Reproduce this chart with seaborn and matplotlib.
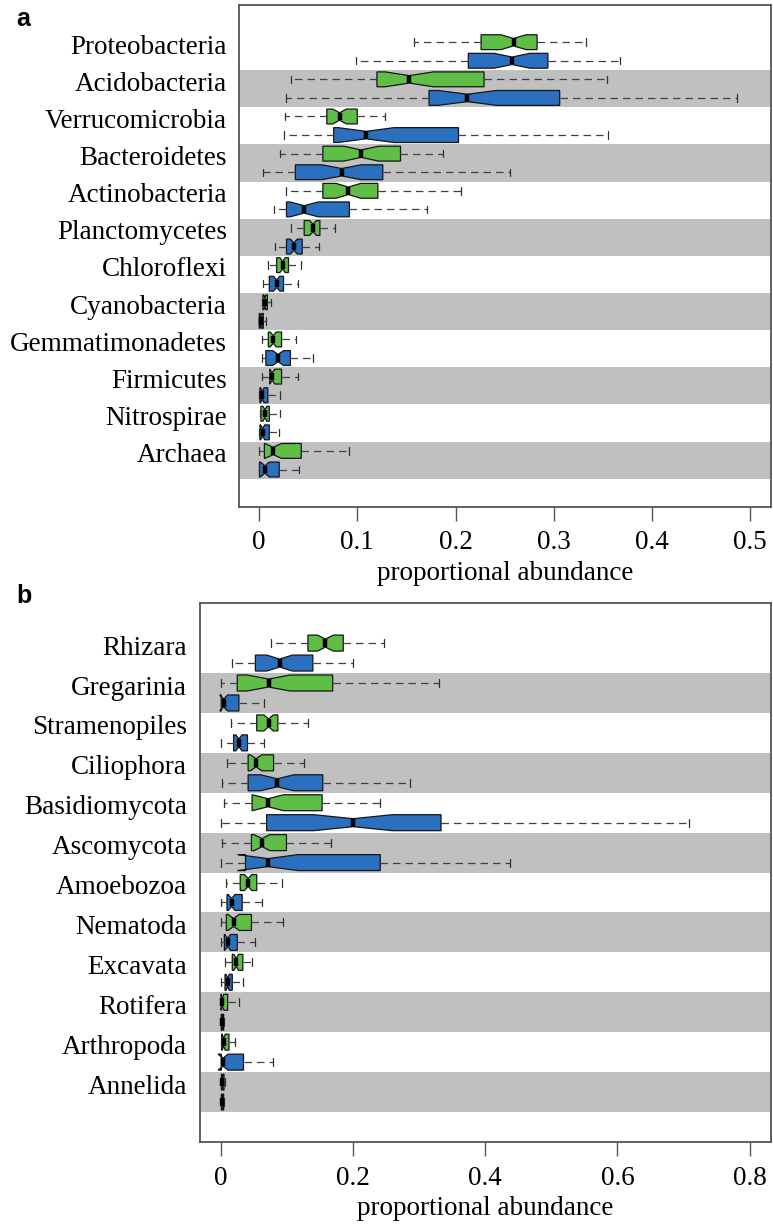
import numpy as np
import pandas as pd
import matplotlib
matplotlib.use("Agg")
import matplotlib.pyplot as plt
import seaborn as sns

# ---------------- data (lo whisker, Q1, median, Q3, hi whisker) ----------------
cats_a = ["Proteobacteria", "Acidobacteria", "Verrucomicrobia", "Bacteroidetes",
          "Actinobacteria", "Planctomycetes", "Chloroflexi", "Cyanobacteria",
          "Gemmatimonadetes", "Firmicutes", "Nitrospirae", "Archaea"]
a_green = [
    (0.158, 0.226, 0.259, 0.283, 0.333),
    (0.033, 0.120, 0.153, 0.229, 0.354),
    (0.026, 0.069, 0.082, 0.100, 0.128),
    (0.021, 0.065, 0.104, 0.144, 0.187),
    (0.027, 0.065, 0.091, 0.121, 0.206),
    (0.033, 0.046, 0.055, 0.062, 0.077),
    (0.009, 0.018, 0.024, 0.030, 0.043),
    (0.003, 0.004, 0.006, 0.0085, 0.012),
    (0.003, 0.0095, 0.0145, 0.023, 0.038),
    (0.003, 0.011, 0.0135, 0.023, 0.040),
    (0.001, 0.002, 0.006, 0.0105, 0.021),
    (0.0003, 0.0055, 0.0145, 0.043, 0.092),
]
a_blue = [
    (0.099, 0.213, 0.2575, 0.294, 0.367),
    (0.028, 0.173, 0.212, 0.306, 0.486),
    (0.025, 0.076, 0.109, 0.203, 0.355),
    (0.004, 0.037, 0.084, 0.126, 0.255),
    (0.015, 0.028, 0.046, 0.092, 0.171),
    (0.016, 0.028, 0.0355, 0.044, 0.061),
    (0.004, 0.0105, 0.018, 0.025, 0.040),
    (0.0, 0.0003, 0.002, 0.0044, 0.007),
    (0.003, 0.007, 0.0195, 0.032, 0.0545),
    (0.0, 0.001, 0.0034, 0.009, 0.021),
    (0.0003, 0.001, 0.0037, 0.0105, 0.0206),
    (0.0003, 0.0005, 0.006, 0.0206, 0.041),
]

cats_b = ["Rhizara", "Gregarinia", "Stramenopiles", "Ciliophora", "Basidiomycota",
          "Ascomycota", "Amoebozoa", "Nematoda", "Excavata", "Rotifera",
          "Arthropoda", "Annelida"]
b_green = [
    (0.075, 0.1315, 0.158, 0.185, 0.246),
    (0.0, 0.0245, 0.072, 0.169, 0.330),
    (0.0145, 0.054, 0.072, 0.086, 0.1315),
    (0.009, 0.041, 0.053, 0.0795, 0.125),
    (0.005, 0.047, 0.071, 0.153, 0.241),
    (0.001, 0.046, 0.062, 0.099, 0.166),
    (0.008, 0.029, 0.041, 0.054, 0.093),
    (0.0, 0.008, 0.019, 0.046, 0.094),
    (0.006, 0.017, 0.023, 0.033, 0.047),
    (0.0, 0.0, 0.002, 0.010, 0.027),
    (0.0, 0.001, 0.004, 0.012, 0.0215),
    (0.0, 0.0005, 0.002, 0.0045, 0.006),
]
b_blue = [
    (0.017, 0.052, 0.0886, 0.139, 0.199),
    (0.0, 0.0003, 0.004, 0.027, 0.065),
    (0.0, 0.019, 0.027, 0.040, 0.065),
    (0.001, 0.041, 0.085, 0.154, 0.286),
    (0.0, 0.069, 0.200, 0.333, 0.708),
    (0.0, 0.037, 0.071, 0.241, 0.438),
    (0.0, 0.009, 0.016, 0.032, 0.062),
    (0.0, 0.005, 0.010, 0.0245, 0.052),
    (0.0, 0.006, 0.010, 0.017, 0.033),
    (0.0, 0.0003, 0.002, 0.004, 0.005),
    (0.0, 0.0005, 0.003, 0.034, 0.0785),
    (0.0, 0.0005, 0.0018, 0.004, 0.005),
]

xticks_a = [0, 0.1, 0.2, 0.3, 0.4, 0.5]
xticklabels_a = ["0", "0.1", "0.2", "0.3", "0.4", "0.5"]
xticks_b = [0, 0.2, 0.4, 0.6, 0.8]
xticklabels_b = ["0", "0.2", "0.4", "0.6", "0.8"]
groups = ["green", "blue"]

# ---------------- style ----------------
GREEN = "#5FBE45"
BLUE = "#2B70BE"
BAND = "#C0C0C0"
sns.set_theme(style="white")
plt.rcParams["font.family"] = ["Liberation Serif", "DejaVu Serif"]
plt.rcParams["text.color"] = "black"
plt.rcParams["xtick.color"] = "black"
plt.rcParams["ytick.color"] = "black"
plt.rcParams["axes.labelcolor"] = "black"

# repetition counts give a sample of 49 whose quartiles equal the given stats
REPS = [1, 12, 12, 23, 1]
LABEL_SHIFT = -0.2


def make_frame(cats, green, blue):
    rows = []
    for cat, g, b in zip(cats, green, blue):
        for grp, st in (("green", g), ("blue", b)):
            for v in np.repeat(np.asarray(st, dtype=float), REPS):
                rows.append((cat, grp, v))
    return pd.DataFrame(rows, columns=["category", "group", "value"])


def draw_panel(ax, cats, green, blue, xlim, xticks, xticklabels):
    df = make_frame(cats, green, blue)
    for i in range(1, len(cats), 2):
        ax.axhspan(i - 0.5, i + 0.5, color=BAND, lw=0, zorder=0)
    sns.boxplot(
        data=df, x="value", y="category", hue="group", orient="h",
        order=cats, hue_order=groups,
        palette={"green": GREEN, "blue": BLUE}, saturation=1,
        width=1.0, gap=0.2, dodge=True, notch=True, whis=np.inf,
        showfliers=False, linewidth=0.9, linecolor="#151515",
        medianprops=dict(color="black", linewidth=3.2),
        whiskerprops=dict(color="#404040", linewidth=0.9, linestyle=(0, (6, 4))),
        capprops=dict(color="#303030", linewidth=0.9),
        legend=False, ax=ax, zorder=2,
    )
    ax.set_ylim(len(cats) + 0.25, -1.25)
    ax.set_yticks(np.arange(len(cats)) + LABEL_SHIFT)
    ax.set_yticklabels(cats)
    ax.set_xlim(*xlim)
    ax.set_xticks(xticks)
    ax.set_xticklabels(xticklabels)
    ax.set_ylabel("")
    ax.set_xlabel("proportional abundance", fontsize=19.5, labelpad=4)
    ax.tick_params(axis="y", length=0, pad=9, labelsize=19.5)
    ax.tick_params(axis="x", direction="out", length=10, width=1.0,
                   color="#555555", pad=7, labelsize=19.5, bottom=True)
    for s in ax.spines.values():
        s.set_visible(True)
        s.set_color("#555555")
        s.set_linewidth(1.3)
    ax.set_facecolor("white")


fig = plt.figure(figsize=(7.73, 12.25), dpi=100)
ax1 = fig.add_axes([0.3096, 0.5864, 0.6878, 0.4095])
ax2 = fig.add_axes([0.2581, 0.0678, 0.7389, 0.4398])

draw_panel(ax1, cats_a, a_green, a_blue, (-0.020, 0.521), xticks_a, xticklabels_a)
draw_panel(ax2, cats_b, b_green, b_blue, (-0.0326, 0.832), xticks_b, xticklabels_b)

fig.text(16 / 773, 1 - 19 / 1225, "a", fontsize=18, fontweight="bold",
         family=["Liberation Sans", "DejaVu Sans"], va="center", ha="left")
fig.text(16 / 773, 1 - 596 / 1225, "b", fontsize=18, fontweight="bold",
         family=["Liberation Sans", "DejaVu Sans"], va="center", ha="left")

fig.savefig("out.png", dpi=100)
